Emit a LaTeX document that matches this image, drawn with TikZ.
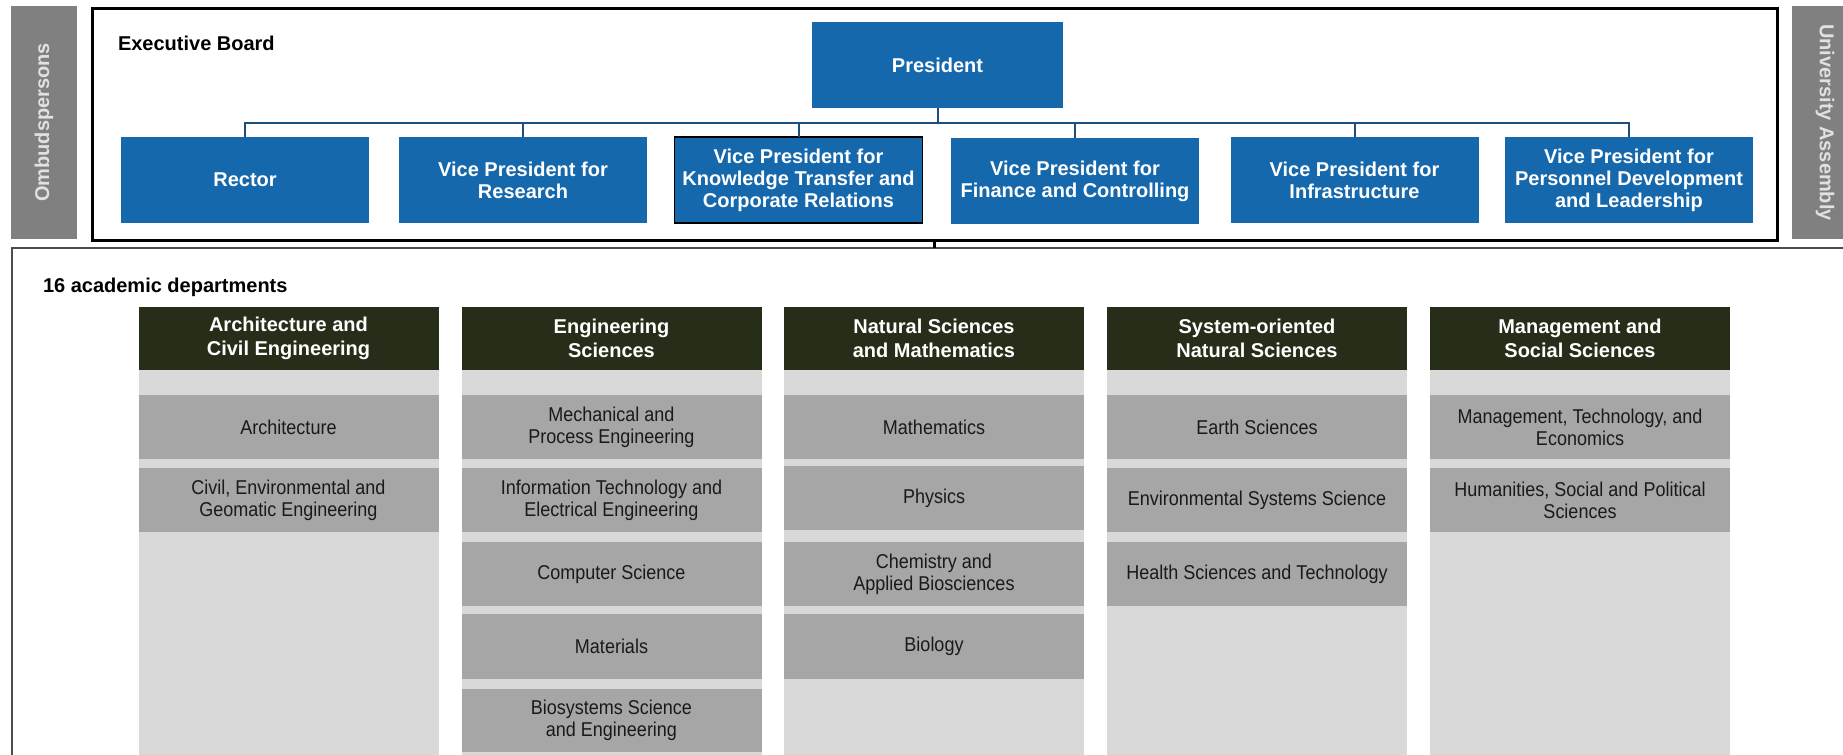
\documentclass[tikz,border=0pt]{standalone}
\usepackage{fontspec}
\setmainfont{Liberation Sans}
\newfontfamily\narrowfont[FakeStretch=0.9]{Liberation Sans}
\definecolor{vpblue}{RGB}{22,104,173}
\definecolor{connblue}{RGB}{30,78,125}
\definecolor{hdrgreen}{RGB}{38,45,24}
\definecolor{colgray}{RGB}{217,217,217}
\definecolor{rowgray}{RGB}{166,166,166}
\definecolor{sidegray}{RGB}{128,128,128}
\definecolor{sidetext}{RGB}{225,225,225}
\definecolor{depttext}{RGB}{26,26,26}
\begin{document}
\begin{tikzpicture}[x=0.5pt,y=-0.5pt,
  every node/.style={inner sep=0pt, outer sep=0pt, font=\fontsize{10}{11}\selectfont},
  vp/.style={fill=vpblue, text=white, font=\bfseries\fontsize{10}{11}\selectfont, align=center, minimum width=124pt, minimum height=43pt},
  conn/.style={draw=connblue, line width=1pt},
  sidebox/.style={fill=sidegray, text=sidetext, font=\bfseries\fontsize{10}{11}\selectfont, minimum width=116.5pt, minimum height=33pt},
  label/.style={anchor=base west, font=\bfseries\fontsize{10}{11}\selectfont},
  colbg/.style={fill=colgray, minimum width=150pt, minimum height=192.5pt},
  hdr/.style={fill=hdrgreen, text=white, font=\bfseries\fontsize{10}{11.75}\selectfont, align=center, minimum width=150pt, minimum height=31.5pt},
  dept/.style={fill=rowgray, text=depttext, font=\narrowfont\fontsize{10}{11}\selectfont, align=center, minimum width=150pt, minimum height=32pt}
]
\useasboundingbox (0,0) rectangle (1843,755);
\clip (0,0) rectangle (1843,755);

% side boxes
\node[sidebox, rotate=90] (omb) at (44,122.5) {Ombudspersons};
\node[sidebox, rotate=-90] (ua) at (1825,122.5) {University Assembly};

% lower frame
\node[draw=black!70, line width=1pt, minimum width=924pt, minimum height=261.25pt] (low) at (936,508.75) {};

% executive board
\node[draw=black, line width=1.5pt, fill=white, minimum width=842.5pt, minimum height=116pt] (exec) at (934.5,124) {};
\node[label] (eb) at (118,50) {Executive Board};
\node[vp, minimum width=125.5pt] (pres) at (937.5,65) {President};
\node[vp] (rector) at (245,180) {Rector};
\node[vp] (research) at (523,180) {Vice President for\\Research};
\node[vp, draw=black, line width=0.8pt] (kt) at (798.5,180) {Vice President for\\Knowledge Transfer and\\Corporate Relations};
\node[vp] (finance) at (1075,181) {Vice President for\\Finance and Controlling};
\node[vp] (infra) at (1354.5,180) {Vice President for\\Infrastructure};
\node[vp] (personnel) at (1629,180) {Vice President for\\Personnel Development\\and Leadership};

\coordinate (bus) at (937.5,123);
\draw[conn] (pres.south) -- (bus);
\foreach \n in {rector,research,kt,finance,infra,personnel}
  \draw[conn] (bus) -| (\n.north);

\draw[black, line width=1.2pt] (exec.south) -- (exec.south |- low.north);

% departments
\node[label] (acad) at (43,292) {16 academic departments};

\node[colbg] (bg1) at (288.5,562.5) {};
\node[colbg] (bg2) at (611.5,562.5) {};
\node[colbg] (bg3) at (934,562.5) {};
\node[colbg] (bg4) at (1257,562.5) {};
\node[colbg] (bg5) at (1580,562.5) {};

\node[hdr] (h1) at (288.5,338.5) {Architecture and\\Civil Engineering};
\node[hdr] (h2) at (611.5,338.5) {Engineering\\Sciences};
\node[hdr] (h3) at (934,338.5) {Natural Sciences\\and Mathematics};
\node[hdr] (h4) at (1257,338.5) {System-oriented\\Natural Sciences};
\node[hdr] (h5) at (1580,338.5) {Management and\\Social Sciences};

\node[dept] (d11) at (288.5,427) {Architecture};
\node[dept] (d12) at (288.5,500) {Civil, Environmental and\\Geomatic Engineering};

\node[dept] (d21) at (611.5,427) {Mechanical and\\Process Engineering};
\node[dept] (d22) at (611.5,500) {Information Technology and\\Electrical Engineering};
\node[dept] (d23) at (611.5,574) {Computer Science};
\node[dept, minimum height=32.5pt] (d24) at (611.5,646.5) {Materials};
\node[dept, minimum height=31.5pt] (d25) at (611.5,720.5) {Biosystems Science\\and Engineering};

\node[dept] (d31) at (934,427) {Mathematics};
\node[dept] (d32) at (934,498) {Physics};
\node[dept] (d33) at (934,574) {Chemistry and\\Applied Biosciences};
\node[dept, minimum height=32.5pt] (d34) at (934,646.5) {Biology};

\node[dept] (d41) at (1257,427) {Earth Sciences};
\node[dept] (d42) at (1257,500) {Environmental Systems Science};
\node[dept] (d43) at (1257,574) {Health Sciences and Technology};

\node[dept] (d51) at (1580,427) {Management, Technology, and\\Economics};
\node[dept] (d52) at (1580,500) {Humanities, Social and Political\\Sciences};
\end{tikzpicture}
\end{document}
